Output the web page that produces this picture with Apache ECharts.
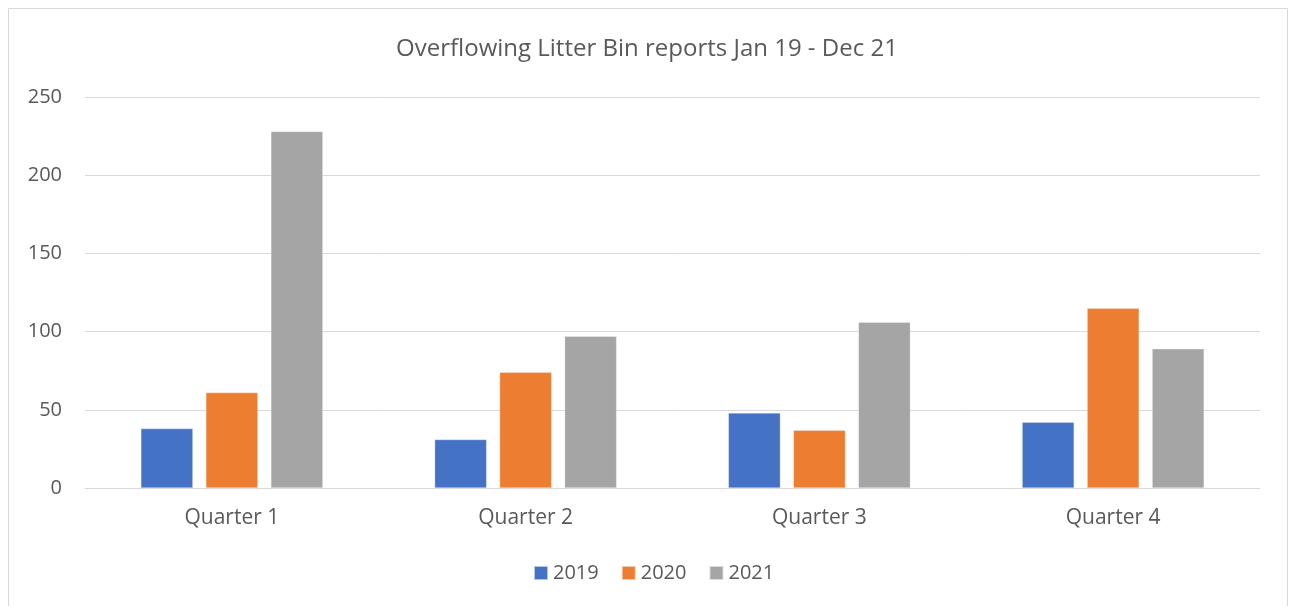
<!DOCTYPE html>
<html><head><meta charset="utf-8">
<script src="https://cdn.jsdelivr.net/npm/echarts@6/dist/echarts.min.js"></script>
<style>html,body{margin:0;padding:0;background:#fff}#c{width:1294px;height:606px}</style>
</head><body><div id="c"></div>
<script>
const categories = ['Quarter 1', 'Quarter 2', 'Quarter 3', 'Quarter 4'];
const s2019 = [38, 31, 48, 42];
const s2020 = [61, 74, 37, 115];
const s2021 = [228, 97, 106, 89];
const seriesNames = ['2019', '2020', '2021'];
const colors = ['#4472C4', '#ED7D31', '#A5A5A5'];
const yTicks = [0, 50, 100, 150, 200, 250];
const FONT = 'Open Sans';

const chart = echarts.init(document.getElementById('c'), null, {renderer: 'canvas'});
const mk = (name, data, i) => ({
  name, type: 'bar', data, barWidth: 52, barGap: '25%',
  itemStyle: {color: colors[i], borderColor: 'rgba(255,255,255,0.6)', borderWidth: 0.5},
  emphasis: {disabled: true}
});
chart.setOption({
  animation: false,
  title: {text: 'Overflowing Litter Bin reports Jan 19 - Dec 21', left: 'center', top: 32,
    textStyle: {fontFamily: FONT, fontSize: 24, fontWeight: 'normal', color: '#595959'}},
  graphic: [{type: 'rect', shape: {x: 8.5, y: 8.5, width: 1279, height: 620},
    style: {fill: 'none', stroke: '#d9d9d9', lineWidth: 1}, silent: true}],
  legend: {data: seriesNames, bottom: 18, left: 528, itemWidth: 14, itemHeight: 14, itemGap: 22,
    icon: 'rect', textStyle: {fontFamily: FONT, fontSize: 20, color: '#595959'}},
  grid: {left: 85, right: 34, top: 97, bottom: 118},
  xAxis: {type: 'category', data: categories,
    axisLine: {lineStyle: {color: '#d9d9d9', width: 1}}, axisTick: {show: false},
    axisLabel: {fontFamily: FONT, fontSize: 21, color: '#595959', margin: 20}},
  yAxis: {type: 'value', min: yTicks[0], max: yTicks[yTicks.length - 1], interval: 50,
    axisLine: {show: false}, axisTick: {show: false},
    splitLine: {lineStyle: {color: '#d9d9d9', width: 1}},
    axisLabel: {fontFamily: FONT, fontSize: 20, color: '#595959', margin: 23}},
  series: [mk(seriesNames[0], s2019, 0), mk(seriesNames[1], s2020, 1), mk(seriesNames[2], s2021, 2)]
});
</script></body></html>
